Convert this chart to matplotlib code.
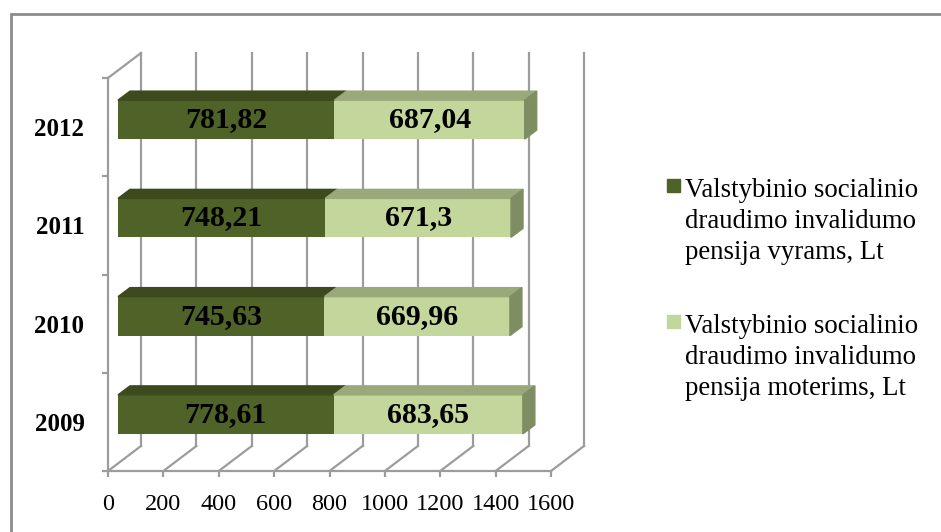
import matplotlib.pyplot as plt
from matplotlib.patches import Polygon, Rectangle

years = ['2009', '2010', '2011', '2012']
men = [778.61, 745.63, 748.21, 781.82]
women = [683.65, 669.96, 671.3, 687.04]
legend_labels = ['Valstybinio socialinio\ndraudimo invalidumo\npensija vyrams, Lt',
                 'Valstybinio socialinio\ndraudimo invalidumo\npensija moterims, Lt']
xticks = list(range(0, 1601, 200))

dark, dark_top = '#4F6228', '#3C4A1E'
light, light_top, light_side = '#C3D69B', '#99A979', '#7F8E62'
grid_c = '#9C9C9C'
serif = ['Liberation Serif', 'DejaVu Serif']

W, H = 941, 532
fig = plt.figure(figsize=(W / 100, H / 100), dpi=100)
# front plane of the 3D box, in pixels
x0, x1, y_top, y_bot = 108, 551, 78, 471
ax = fig.add_axes([x0 / W, (H - y_bot) / H, (x1 - x0) / W, (y_bot - y_top) / H])
ax.set_xlim(0, 1600)
ax.set_ylim(-0.5, 3.5)

# pixel -> data units
ux = 1600 / (x1 - x0)
uy = 4 / (y_bot - y_top)

# back wall offset
dX, dY = 33 * ux, 25 * uy
kw = dict(color=grid_c, lw=1.6, clip_on=False, zorder=1)
for v in xticks:
    ax.plot([v + dX, v + dX], [-0.5 + dY, 3.5 + dY], **kw)
    ax.plot([v, v + dX], [-0.5, -0.5 + dY], **kw)
ax.plot([0, dX], [3.5, 3.5 + dY], **kw)

# bars: front face offset into depth, then top and side faces
bx, by = 10 * ux, 7.5 * uy
ddx, ddy = 12 * ux, 9 * uy
h = 39 * uy
for i, (m, w) in enumerate(zip(men, women)):
    yc = i + by
    bot, top = yc - h / 2, yc + h / 2
    ax.barh(yc, m, left=bx, height=h, color=dark, zorder=3, clip_on=False)
    ax.barh(yc, w, left=bx + m, height=h, color=light, zorder=3, clip_on=False)
    for a, b, c in [(bx, bx + m, dark_top), (bx + m, bx + m + w, light_top)]:
        ax.add_patch(Polygon([(a, top), (b, top), (b + ddx, top + ddy), (a + ddx, top + ddy)],
                             closed=True, color=c, zorder=3, clip_on=False))
    e = bx + m + w
    ax.add_patch(Polygon([(e, bot), (e, top), (e + ddx, top + ddy), (e + ddx, bot + ddy)],
                         closed=True, color=light_side, zorder=3, clip_on=False))
    ax.text(bx + m / 2, yc, str(m).replace('.', ','), ha='center', va='center',
            fontsize=21.5, fontweight='bold', family=serif, zorder=5)
    ax.text(bx + m + w / 2, yc, str(w).replace('.', ','), ha='center', va='center',
            fontsize=21.5, fontweight='bold', family=serif, zorder=5)

# axes styling
for s in ['top', 'right']:
    ax.spines[s].set_visible(False)
for s in ['left', 'bottom']:
    ax.spines[s].set_color(grid_c)
    ax.spines[s].set_linewidth(1.6)
ax.set_xticks(xticks)
ax.set_xticklabels([str(v) for v in xticks], fontsize=17.5, family=serif)
ax.tick_params(axis='x', length=4.5, width=1.6, color=grid_c, pad=12)
ax.set_yticks(range(len(years)))
ax.set_yticklabels(years, fontsize=18, fontweight='bold', family=serif)
ax.set_yticks([i - 0.5 for i in range(len(years) + 1)], minor=True)
ax.tick_params(axis='y', which='major', length=0, pad=17)
ax.tick_params(axis='y', which='minor', length=4, width=1.6, color=grid_c)
ax.patch.set_visible(False)

# legend drawn by hand
for k, (lab, c) in enumerate(zip(legend_labels, [dark, light])):
    ty = [178, 314][k]
    fig.patches.append(Rectangle((667 / W, (H - ty - 14) / H), 13 / W, 13 / H,
                                 transform=fig.transFigure, color=c))
    fig.text(685 / W, (H - ty + 0) / H, lab, ha='left', va='top', fontsize=19.3,
             family=serif, linespacing=1.32)

# outer border
fig.patches.append(Rectangle((11 / W, -0.1), 1.2, (H - 14) / H + 0.1, transform=fig.transFigure,
                             fill=False, edgecolor='#8C8C8C', lw=2))

fig.savefig('out.png', dpi=100)
